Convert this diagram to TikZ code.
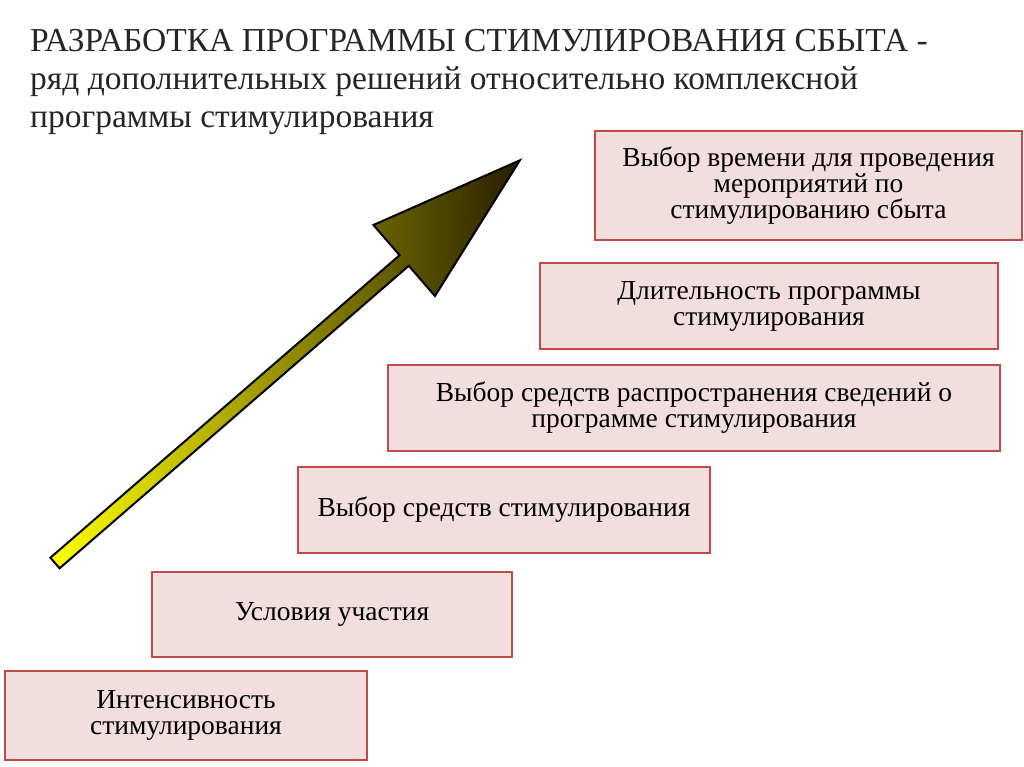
\documentclass[tikz,border=0pt]{standalone}
\usepackage{fontspec}
\setmainfont{Liberation Serif}
\begin{document}
\begin{tikzpicture}[x=1pt,y=1pt,
  stepbox/.style={draw=boxline,fill=boxfill,line width=1.6pt,align=center,font=\fontsize{27.5}{26}\selectfont,inner sep=0pt},
  ttl/.style={anchor=west,font=\fontsize{33.5}{36}\selectfont,inner sep=0pt,text=black!85}]
\definecolor{boxfill}{RGB}{242,222,222}
\definecolor{boxline}{RGB}{190,75,72}
\definecolor{arrA}{RGB}{255,255,0}
\definecolor{arrM}{RGB}{175,170,0}
\definecolor{arrB}{RGB}{40,30,0}
\useasboundingbox (0,0) rectangle (1024,767);
\fill[white] (0,0) rectangle (1024,767);
\node[ttl] (t1) at (30,726) {РАЗРАБОТКА ПРОГРАММЫ СТИМУЛИРОВАНИЯ СБЫТА -};
\node[ttl] (t2) at (30,685) {ряд дополнительных решений относительно комплексной};
\node[ttl] (t3) at (30,644) {программы стимулирования};
\node[stepbox,minimum width=362,minimum height=89] (b1) at (186,51.5) {Интенсивность\\стимулирования};
\node[stepbox,minimum width=360,minimum height=85] (b2) at (332,152.5) {Условия участия};
\node[stepbox,minimum width=412,minimum height=86] (b3) at (504,257) {Выбор средств стимулирования};
\node[stepbox,minimum width=612,minimum height=86] (b4) at (694,359) {Выбор средств распространения сведений о\\программе стимулирования};
\node[stepbox,minimum width=458,minimum height=86] (b5) at (769,461) {Длительность программы\\стимулирования};
\node[stepbox,minimum width=427,minimum height=109] (b6) at (808.5,581.5) {Выбор времени для проведения\\мероприятий по\\стимулированию сбыта};
\begin{scope}[shift={(55,204)},rotate=40.9]
\shade[left color=arrA,middle color=arrM,right color=arrB,draw=black,line width=2pt,line join=miter]
 (0,-7)--(462,-7)--(462,-47)--(615,0)--(462,47)--(462,7)--(0,7)--cycle;
\end{scope}
\end{tikzpicture}
\end{document}
